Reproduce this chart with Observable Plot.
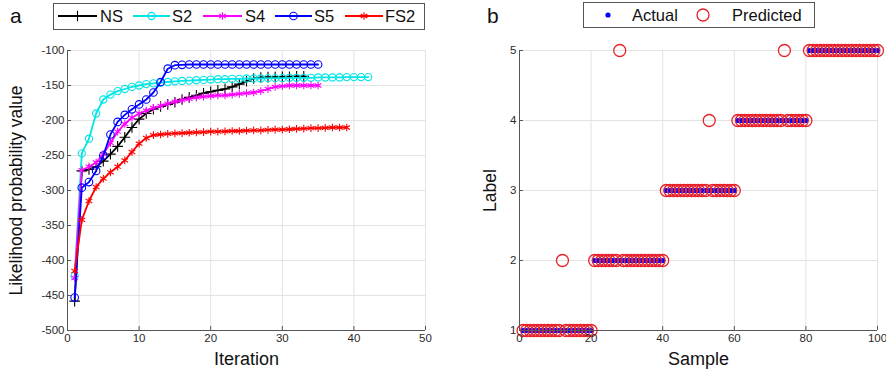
<!DOCTYPE html>
<html><head><meta charset="utf-8">
<script src="https://cdn.jsdelivr.net/npm/d3@7"></script>
<script src="https://cdn.jsdelivr.net/npm/@observablehq/plot@0.6"></script>
<style>
body{margin:0;background:#fff;font-family:"Liberation Sans",Arial,sans-serif}
#wrap{position:relative;width:886px;height:377px;overflow:hidden;background:#fff}
.panel{position:absolute;top:0}
#legend{position:absolute;left:0;top:0}
</style></head>
<body><div id="wrap"><div class="panel" id="pa" style="left:0"></div><div class="panel" id="pb" style="left:443px"></div></div>
<script>
// ---------- Panel a data ----------
const seriesNames = ["NS","S2","S4","S5","FS2"];
const NS = [-458,-272,-270,-266,-258,-248,-237,-224,-210,-198,-190,-184,-180,-177,-174,-170,-167,-164,-161,-159,-157,-155,-152,-148,-144,-140,-138.5,-138,-138,-137.5,-137.5,-137,-137];
const S2 = [-422,-247,-226,-190,-170,-163,-158,-155,-152,-150,-148,-147,-146,-145,-144,-143.5,-143,-142.5,-142,-141.5,-141,-141,-140.5,-140.5,-140,-140,-140,-139.5,-139.5,-139.5,-139,-139,-139,-139,-138.5,-138.5,-138.5,-138.5,-138,-138,-138,-138];
const S4 = [-425,-271,-266,-260,-248,-232,-216,-205,-196,-190,-186,-182,-179,-176,-173,-171,-169,-167,-166,-165,-164,-164,-163,-162,-161,-160,-158,-155,-152,-151,-150,-150,-150,-150,-150];
const S5 = [-453,-296,-288,-272,-250,-220,-202,-192,-184,-177,-170,-160,-145,-126,-121,-120.5,-120,-120,-120,-120,-120,-120,-120,-120,-120,-120,-120,-120,-120,-120,-120,-120,-120,-120,-120];
const FS2 = [-415,-342,-315,-295,-283,-274,-266,-257,-245,-233,-225,-221,-220,-219,-218.5,-218,-217.5,-217,-216.5,-216,-216,-215.5,-215,-215,-214.5,-214,-214,-213.5,-213,-213,-212.5,-212,-211.5,-211,-211,-210.5,-210,-210,-210];
const xTicksA = [0,10,20,30,40,50];
const yTicksA = [-500,-450,-400,-350,-300,-250,-200,-150,-100];

// ---------- Panel b data ----------
const sample = [1,2,3,4,5,6,7,8,9,10,11,12,13,14,15,16,17,18,19,20,21,22,23,24,25,26,27,28,29,30,31,32,33,34,35,36,37,38,39,40,41,42,43,44,45,46,47,48,49,50,51,52,53,54,55,56,57,58,59,60,61,62,63,64,65,66,67,68,69,70,71,72,73,74,75,76,77,78,79,80,81,82,83,84,85,86,87,88,89,90,91,92,93,94,95,96,97,98,99,100];
const actual = [1,1,1,1,1,1,1,1,1,1,1,1,1,1,1,1,1,1,1,1,
                2,2,2,2,2,2,2,2,2,2,2,2,2,2,2,2,2,2,2,2,
                3,3,3,3,3,3,3,3,3,3,3,3,3,3,3,3,3,3,3,3,
                4,4,4,4,4,4,4,4,4,4,4,4,4,4,4,4,4,4,4,4,
                5,5,5,5,5,5,5,5,5,5,5,5,5,5,5,5,5,5,5,5];
const predicted = [1,1,1,1,1,1,1,1,1,1,1,2,1,1,1,1,1,1,1,1,
                   2,2,2,2,2,2,2,5,2,2,2,2,2,2,2,2,2,2,2,2,
                   3,3,3,3,3,3,3,3,3,3,3,3,4,3,3,3,3,3,3,3,
                   4,4,4,4,4,4,4,4,4,4,4,4,4,5,4,4,4,4,4,4,
                   5,5,5,5,5,5,5,5,5,5,5,5,5,5,5,5,5,5,5,5];
const xTicksB = [0,20,40,60,80,100];
const yTicksB = [1,2,3,4,5];

// ---------- build tables ----------
const colors = {NS:"#000000",S2:"#00e5e5",S4:"#ff00ff",S5:"#0000ff",FS2:"#ff0000"};
const symbols = {NS:"plus",S2:"circle",S4:"asterisk",S5:"circle",FS2:"asterisk"};
const rs = {NS:3.5,S2:3.6,S4:3.6,S5:3.8,FS2:3.6};
const vals = {NS,S2,S4,S5,FS2};
const tableA = seriesNames.flatMap(s => vals[s].map((v,i)=>({series:s, it:i+1, v})));
const tableB = sample.map((s,i)=>({s, a:actual[i], p:predicted[i]}));

const font = '"Liberation Sans",Arial,sans-serif';
const axisCol = "#555";
const txtCol = "#2a2a2a";

const seriesMarks = seriesNames.flatMap(s => {
  const d = tableA.filter(r=>r.series===s);
  return [
    Plot.line(d,{x:"it",y:"v",stroke:colors[s],strokeWidth:1.8}),
    Plot.dot(d,{x:"it",y:"v",symbol:symbols[s],r:rs[s],stroke:colors[s],fill:"none",strokeWidth:1.1})
  ];
});

const pa = Plot.plot({
  width:443,height:377,marginLeft:67,marginRight:18,marginTop:50,marginBottom:47,
  style:{fontFamily:font,fontSize:"11.5px",color:txtCol,background:"#fff",overflow:"visible"},
  x:{domain:[0,50]},
  y:{domain:[-500,-100]},
  marks:[
    Plot.gridX(xTicksA,{stroke:"#e3e3e3",strokeOpacity:1}),
    Plot.gridY(yTicksA,{stroke:"#e3e3e3",strokeOpacity:1}),
    ...seriesMarks,
    Plot.axisX(xTicksA,{tickSize:-4,tickPadding:7,stroke:axisCol,fill:txtCol,label:null,tickFormat:d=>String(d)}),
    Plot.axisY(yTicksA,{tickSize:-4,tickPadding:7,stroke:axisCol,fill:txtCol,label:null,tickFormat:d=>String(d)}),
    Plot.ruleX([0],{stroke:axisCol}),
    Plot.ruleY([-500],{stroke:axisCol}),
    Plot.text(["Iteration"],{frameAnchor:"bottom",dy:34,fontSize:18,fill:"#111"}),
    Plot.text(["Likelihood probability value"],{frameAnchor:"left",textAnchor:"middle",dx:-51,rotate:-90,fontSize:17.5,fill:"#111"})
  ]
});
document.getElementById("pa").appendChild(pa);

const pb = Plot.plot({
  width:443,height:377,marginLeft:76,marginRight:9,marginTop:50,marginBottom:47,
  style:{fontFamily:font,fontSize:"11.5px",color:txtCol,background:"#fff",overflow:"visible"},
  x:{domain:[0,100]},
  y:{domain:[1,5]},
  marks:[
    Plot.gridX(xTicksB,{stroke:"#e3e3e3",strokeOpacity:1}),
    Plot.gridY(yTicksB,{stroke:"#e3e3e3",strokeOpacity:1}),
    Plot.dot(tableB,{x:"s",y:"a",r:2.6,fill:"#0000ff",stroke:"none"}),
    Plot.dot(tableB,{x:"s",y:"p",r:6,fill:"none",stroke:"#e8222b",strokeWidth:1.3}),
    Plot.axisX(xTicksB,{tickSize:-4,tickPadding:7,stroke:axisCol,fill:txtCol,label:null,tickFormat:d=>String(d)}),
    Plot.axisY(yTicksB,{tickSize:-4,tickPadding:7,stroke:axisCol,fill:txtCol,label:null,tickFormat:d=>String(d)}),
    Plot.ruleX([0],{stroke:axisCol}),
    Plot.ruleY([1],{stroke:axisCol}),
    Plot.text(["Sample"],{frameAnchor:"bottom",dy:34,fontSize:18,fill:"#111"}),
    Plot.text(["Label"],{frameAnchor:"left",textAnchor:"middle",dx:-29,rotate:-90,fontSize:17.5,fill:"#111"})
  ]
});
document.getElementById("pb").appendChild(pb);

// ---------- legends & panel letters ----------
const svg = d3.select("#wrap").append("svg").attr("id","legend").attr("width",886).attr("height",36)
  .style("font-family",font);
svg.append("text").attr("x",10).attr("y",23).attr("font-size",21).attr("fill","#111").text("a");
svg.append("text").attr("x",487).attr("y",23).attr("font-size",21).attr("fill","#111").text("b");
svg.append("rect").attr("x",53.5).attr("y",3.5).attr("width",371).attr("height",26).attr("fill","#fff").attr("stroke","#555");
const legA = [{s:"NS",x0:58,x1:97,tx:100},{s:"S2",x0:133,x1:170,tx:172},{s:"S4",x0:203,x1:242,tx:245},{s:"S5",x0:275,x1:312,tx:314},{s:"FS2",x0:345,x1:383,tx:385}];
const symMap = {plus:d3.symbolPlus,circle:d3.symbolCircle,asterisk:d3.symbolAsterisk};
legA.forEach(o=>{
  svg.append("line").attr("x1",o.x0).attr("x2",o.x1).attr("y1",16).attr("y2",16).attr("stroke",colors[o.s]).attr("stroke-width",1.8);
  const r = rs[o.s];
  svg.append("path").attr("d",d3.symbol(symMap[symbols[o.s]], Math.PI*r*r)()).attr("transform",`translate(${(o.x0+o.x1)/2},16)`)
    .attr("fill","none").attr("stroke",colors[o.s]).attr("stroke-width",1.1);
  svg.append("text").attr("x",o.tx).attr("y",22).attr("font-size",16.5).attr("fill","#111").text(o.s);
});
svg.append("rect").attr("x",583.5).attr("y",2.5).attr("width",231).attr("height",25).attr("fill","#fff").attr("stroke","#555");
svg.append("circle").attr("cx",608).attr("cy",15).attr("r",2.6).attr("fill","#0000ff");
svg.append("text").attr("x",632).attr("y",21).attr("font-size",16.5).attr("fill","#111").text("Actual");
svg.append("circle").attr("cx",703).attr("cy",15).attr("r",6).attr("fill","none").attr("stroke","#e8222b").attr("stroke-width",1.3);
svg.append("text").attr("x",732).attr("y",21).attr("font-size",16.5).attr("fill","#111").text("Predicted");
</script></body></html>
